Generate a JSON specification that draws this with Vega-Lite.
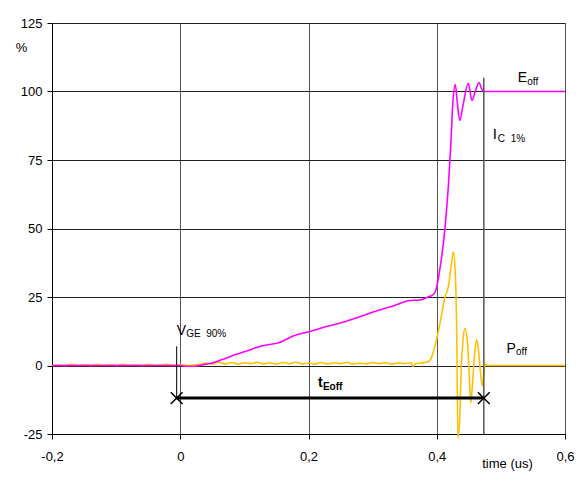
{
  "$schema": "https://vega.github.io/schema/vega-lite/v6.json",
  "width": 513,
  "height": 411,
  "autosize": {"type": "none"},
  "padding": {"left": 52, "top": 23, "right": 16, "bottom": 48},
  "background": "white",
  "config": {
    "font": "Liberation Sans",
    "locale": {"number": {"decimal": ",", "thousands": ".", "grouping": [3], "currency": ["", ""], "minus": "-"}},
    "view": {"stroke": "#808080", "strokeWidth": 1},
    "axis": {
      "labelFont": "Liberation Sans", "labelFontSize": 13, "labelColor": "#000",
      "titleFont": "Liberation Sans", "titleFontSize": 13, "titleFontWeight": "normal", "titleColor": "#000",
      "domainColor": "#000", "tickColor": "#000", "tickSize": 5
    }
  },
  "datasets": {
    "one": [{}],
    "poff": [
      {"t": -0.2, "v": 0}, {"t": -0.19, "v": 0.2}, {"t": -0.18, "v": 0}, {"t": -0.17, "v": 0.4},
      {"t": -0.16, "v": 0.1}, {"t": -0.15, "v": 0.3}, {"t": -0.14, "v": 0}, {"t": -0.13, "v": 0.4},
      {"t": -0.12, "v": 0.1}, {"t": -0.11, "v": 0.3}, {"t": -0.1, "v": 0}, {"t": -0.09, "v": 0.4},
      {"t": -0.08, "v": 0.1}, {"t": -0.07, "v": 0.3}, {"t": -0.06, "v": 0}, {"t": -0.05, "v": 0.4},
      {"t": -0.04, "v": 0.1}, {"t": -0.03, "v": 0.3}, {"t": -0.02, "v": 0.4}, {"t": -0.01, "v": 0.1},
      {"t": 0.0, "v": 0.3}, {"t": 0.01, "v": 0}, {"t": 0.02, "v": 0.2}, {"t": 0.03, "v": 0.4},
      {"t": 0.04, "v": 0.9}, {"t": 0.05, "v": 0.5}, {"t": 0.06, "v": 1.2}, {"t": 0.07, "v": 0.6},
      {"t": 0.08, "v": 1.1}, {"t": 0.09, "v": 0.5}, {"t": 0.1, "v": 1.0}, {"t": 0.11, "v": 0.7},
      {"t": 0.12, "v": 1.2}, {"t": 0.13, "v": 0.6}, {"t": 0.14, "v": 1.0}, {"t": 0.15, "v": 0.5},
      {"t": 0.16, "v": 1.1}, {"t": 0.17, "v": 0.7}, {"t": 0.18, "v": 1.2}, {"t": 0.19, "v": 0.6},
      {"t": 0.2, "v": 0.9}, {"t": 0.21, "v": 0.5}, {"t": 0.22, "v": 1.1}, {"t": 0.23, "v": 0.6},
      {"t": 0.24, "v": 1.0}, {"t": 0.25, "v": 0.7}, {"t": 0.26, "v": 1.2}, {"t": 0.27, "v": 0.5},
      {"t": 0.28, "v": 0.9}, {"t": 0.29, "v": 0.6}, {"t": 0.3, "v": 1.1}, {"t": 0.31, "v": 0.7},
      {"t": 0.32, "v": 1.0}, {"t": 0.33, "v": 0.5}, {"t": 0.34, "v": 0.9}, {"t": 0.35, "v": 0.7},
      {"t": 0.36, "v": 1.0}, {"t": 0.363, "v": -0.3}, {"t": 0.367, "v": 0.7}, {"t": 0.375, "v": 0.9},
      {"t": 0.383, "v": 1.2}, {"t": 0.389, "v": 1.8}, {"t": 0.397, "v": 6.9}, {"t": 0.405, "v": 15.4},
      {"t": 0.413, "v": 25.1}, {"t": 0.418, "v": 28.8}, {"t": 0.423, "v": 37.3}, {"t": 0.426, "v": 41.5},
      {"t": 0.429, "v": 33}, {"t": 0.431, "v": 15}, {"t": 0.433, "v": -26.5}, {"t": 0.436, "v": -18},
      {"t": 0.438, "v": -2}, {"t": 0.441, "v": 9.4}, {"t": 0.444, "v": 13.6}, {"t": 0.448, "v": 8},
      {"t": 0.451, "v": -5}, {"t": 0.453, "v": -13.7}, {"t": 0.456, "v": -6}, {"t": 0.459, "v": 4},
      {"t": 0.462, "v": 9.4}, {"t": 0.465, "v": 6}, {"t": 0.468, "v": -2}, {"t": 0.471, "v": -7.4},
      {"t": 0.474, "v": -2}, {"t": 0.476, "v": 0.5}, {"t": 0.48, "v": 0}, {"t": 0.6, "v": 0}
    ],
    "eoff": [
      {"t": -0.2, "v": 0}, {"t": 0.0, "v": 0}, {"t": 0.01, "v": -0.3}, {"t": 0.02, "v": -0.3},
      {"t": 0.03, "v": 0}, {"t": 0.041, "v": 0.5}, {"t": 0.055, "v": 1.3}, {"t": 0.067, "v": 2.3},
      {"t": 0.08, "v": 3.5}, {"t": 0.093, "v": 4.5}, {"t": 0.106, "v": 5.5}, {"t": 0.119, "v": 6.6},
      {"t": 0.137, "v": 7.6}, {"t": 0.155, "v": 8.4}, {"t": 0.176, "v": 10.8}, {"t": 0.202, "v": 12.4},
      {"t": 0.228, "v": 14.2}, {"t": 0.254, "v": 15.8}, {"t": 0.28, "v": 17.8}, {"t": 0.306, "v": 19.9},
      {"t": 0.332, "v": 21.7}, {"t": 0.358, "v": 23.7}, {"t": 0.374, "v": 23.9}, {"t": 0.387, "v": 25.1},
      {"t": 0.395, "v": 26}, {"t": 0.4, "v": 28.7}, {"t": 0.404, "v": 34}, {"t": 0.407, "v": 38.5},
      {"t": 0.413, "v": 50.6}, {"t": 0.418, "v": 65.1}, {"t": 0.422, "v": 80.9}, {"t": 0.425, "v": 95.5},
      {"t": 0.429, "v": 102.5}, {"t": 0.432, "v": 96}, {"t": 0.436, "v": 89.4}, {"t": 0.441, "v": 95},
      {"t": 0.449, "v": 103}, {"t": 0.455, "v": 96.7}, {"t": 0.46, "v": 100}, {"t": 0.466, "v": 103.3},
      {"t": 0.47, "v": 101}, {"t": 0.473, "v": 100}, {"t": 0.6, "v": 100}
    ],
    "marks": [{"t": -0.0056, "v": -11.9}, {"t": 0.4734, "v": -11.9}]
  },
  "encoding": {
    "x": {
      "type": "quantitative",
      "scale": {"domain": [-0.2, 0.6], "nice": false, "zero": false},
      "axis": {
        "values": [-0.2, 0, 0.2, 0.4, 0.6], "format": "~g",
        "grid": true, "gridColor": "#555", "gridWidth": 1,
        "labelPadding": 11, "labelFlush": false,
        "title": "time (us)", "titleX": 455, "titleY": 29, "titleAlign": "center", "titleBaseline": "middle"
      }
    },
    "y": {
      "type": "quantitative",
      "scale": {"domain": [-25, 125], "nice": false},
      "axis": {
        "values": [-25, 0, 25, 50, 75, 100, 125], "grid": true, "gridColor": "#222", "gridWidth": 1,
        "labelPadding": 5, "labelFlush": false,
        "title": "%", "titleAngle": 0, "titleX": -31, "titleY": 24, "titleAlign": "center", "titleBaseline": "middle"
      }
    }
  },
  "layer": [
    {
      "data": {"name": "poff"},
      "mark": {"type": "line", "color": "#FFC000", "strokeWidth": 1.6, "interpolate": "monotone", "clip": false},
      "encoding": {"x": {"field": "t", "type": "quantitative"}, "y": {"field": "v", "type": "quantitative"}}
    },
    {
      "data": {"name": "eoff"},
      "mark": {"type": "line", "color": "#FF00FF", "strokeWidth": 1.6, "interpolate": "monotone"},
      "encoding": {"x": {"field": "t", "type": "quantitative"}, "y": {"field": "v", "type": "quantitative"}}
    },
    {
      "data": {"name": "one"},
      "mark": {"type": "rule", "color": "#000", "strokeWidth": 1},
      "encoding": {"x": {"datum": -0.0056}, "y": {"datum": 7}, "y2": {"datum": -11.9}}
    },
    {
      "data": {"name": "one"},
      "mark": {"type": "rule", "color": "#555", "strokeWidth": 1.5},
      "encoding": {"x": {"datum": 0.4734}, "y": {"datum": 105}, "y2": {"datum": -25}}
    },
    {
      "data": {"name": "one"},
      "mark": {"type": "rule", "color": "#000", "strokeWidth": 3},
      "encoding": {"x": {"datum": -0.0056}, "x2": {"datum": 0.4734}, "y": {"datum": -11.9}}
    },
    {
      "data": {"name": "marks"},
      "mark": {"type": "point", "shape": "M-1,-1L1,1M-1,1L1,-1", "size": 140, "stroke": "#000", "strokeWidth": 1.5, "filled": false, "opacity": 1},
      "encoding": {"x": {"field": "t", "type": "quantitative"}, "y": {"field": "v", "type": "quantitative"}}
    },
    {
      "data": {"name": "one"},
      "mark": {"type": "text", "text": "E", "fontSize": 14, "align": "left", "baseline": "alphabetic", "color": "#000"},
      "encoding": {"x": {"datum": 0.5264}, "y": {"datum": 103.3}}
    },
    {
      "data": {"name": "one"},
      "mark": {"type": "text", "text": "off", "fontSize": 10, "align": "left", "baseline": "alphabetic", "dx": 9.5, "dy": 3, "color": "#000"},
      "encoding": {"x": {"datum": 0.5264}, "y": {"datum": 103.3}}
    },
    {
      "data": {"name": "one"},
      "mark": {"type": "text", "text": "I", "fontSize": 15, "align": "left", "baseline": "alphabetic", "color": "#000"},
      "encoding": {"x": {"datum": 0.4875}, "y": {"datum": 82.75}}
    },
    {
      "data": {"name": "one"},
      "mark": {"type": "text", "text": "C\u00a0\u00a01%", "fontSize": 10, "align": "left", "baseline": "alphabetic", "dx": 5, "dy": 3, "color": "#000"},
      "encoding": {"x": {"datum": 0.4875}, "y": {"datum": 82.75}}
    },
    {
      "data": {"name": "one"},
      "mark": {"type": "text", "text": "P", "fontSize": 14, "align": "left", "baseline": "alphabetic", "color": "#000"},
      "encoding": {"x": {"datum": 0.5088}, "y": {"datum": 4.73}}
    },
    {
      "data": {"name": "one"},
      "mark": {"type": "text", "text": "off", "fontSize": 10, "align": "left", "baseline": "alphabetic", "dx": 9.5, "dy": 2.5, "color": "#000"},
      "encoding": {"x": {"datum": 0.5088}, "y": {"datum": 4.73}}
    },
    {
      "data": {"name": "one"},
      "mark": {"type": "text", "text": "V", "fontSize": 14, "align": "left", "baseline": "alphabetic", "color": "#000"},
      "encoding": {"x": {"datum": -0.0056}, "y": {"datum": 11.17}}
    },
    {
      "data": {"name": "one"},
      "mark": {"type": "text", "text": "GE\u00a0\u00a090%", "fontSize": 10, "align": "left", "baseline": "alphabetic", "dx": 9.5, "dy": 2, "color": "#000"},
      "encoding": {"x": {"datum": -0.0056}, "y": {"datum": 11.17}}
    },
    {
      "data": {"name": "one"},
      "mark": {"type": "text", "text": "t", "fontSize": 14, "fontWeight": "bold", "align": "left", "baseline": "alphabetic", "color": "#000"},
      "encoding": {"x": {"datum": 0.2147}, "y": {"datum": -7.75}}
    },
    {
      "data": {"name": "one"},
      "mark": {"type": "text", "text": "Eoff", "fontSize": 10, "fontWeight": "bold", "align": "left", "baseline": "alphabetic", "dx": 5, "dy": 3, "color": "#000"},
      "encoding": {"x": {"datum": 0.2147}, "y": {"datum": -7.75}}
    }
  ]
}
